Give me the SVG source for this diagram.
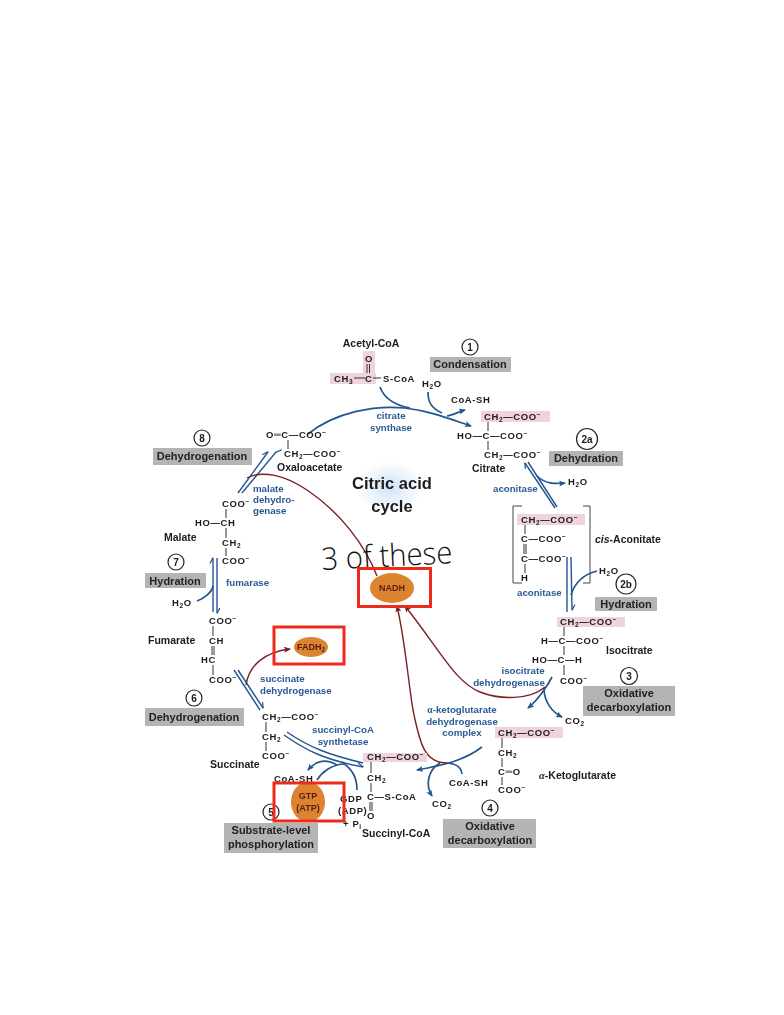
<svg xmlns="http://www.w3.org/2000/svg" width="784" height="1015" viewBox="0 0 784 1015">
<style>
text{font-family:"Liberation Sans",Arial,sans-serif;font-weight:700;fill:#1c1c1c;filter:url(#soft)}
.c{font-size:9.5px;letter-spacing:.6px}
.n{font-size:10.5px}
.b{font-size:9.7px;fill:#2a5a94}
.m{text-anchor:middle}
.l{font-size:11px;text-anchor:middle;fill:#222}
.s{font-size:6.5px}
.g{fill:#b4b4b4}
.p{fill:#f0d3df}
.o{fill:#fff;stroke:#222;stroke-width:1.2}
.d{font-size:10px;text-anchor:middle}
.e{fill:#dc8430}
.t{font-size:9px;text-anchor:middle;fill:#5a1c10}
.r{fill:none;stroke:#ee2a1b;stroke-width:3}
.bond{fill:none;stroke:#333;stroke-width:1}
.a{fill:none;stroke:#23568f;stroke-width:1.7}
.h{fill:none;stroke:#23568f;stroke-width:1.4}
.x{fill:none;stroke:#7a2024;stroke-width:1.4}
.br{fill:none;stroke:#444;stroke-width:1}
</style>
<defs>
<filter id="soft" x="-10%" y="-30%" width="120%" height="160%"><feGaussianBlur stdDeviation="0.3"/></filter>
<marker id="ab" markerWidth="8" markerHeight="8" refX="6" refY="3" orient="auto" markerUnits="userSpaceOnUse"><path d="M0 0L7 3L0 6L1.5 3z" fill="#23568f"/></marker>
<marker id="ar" markerWidth="8" markerHeight="8" refX="6" refY="3" orient="auto" markerUnits="userSpaceOnUse"><path d="M0 0L7 3L0 6L1.5 3z" fill="#7a2024"/></marker>
<marker id="hb" markerWidth="7" markerHeight="7" refX="5.5" refY="4" orient="auto" markerUnits="userSpaceOnUse"><path d="M0 1L6 4" fill="none" stroke="#23568f" stroke-width="1.2"/></marker>
<radialGradient id="glow"><stop offset="0" stop-color="#cfe3f6"/><stop offset="1" stop-color="#fff"/></radialGradient>
</defs>
<rect width="784" height="1015" fill="#fff"/>
<ellipse cx="390" cy="487" rx="34" ry="26" fill="url(#glow)"/>

<g id="connectors">
<path class="a" marker-end="url(#ab)" d="M308 434C335 412 375 405 405 408C430 411 450 419 471 426"/>
<path class="a" d="M380 387C384 398 394 405 410 408"/>
<path class="a" d="M428 392C428 402 431 408 442 413"/>
<path class="a" marker-end="url(#ab)" d="M447 416C453 415 458 412 465 410"/>
<path class="h" marker-end="url(#hb)" d="M238 493L268 452"/>
<path class="h" marker-start="url(#hb)" d="M276 452L242 493"/>
<path class="h" marker-end="url(#hb)" d="M213 612V558"/>
<path class="h" marker-end="url(#hb)" d="M217 558V613"/>
<path class="a" d="M197 601C205 598 212 592 213 586"/>
<path class="h" marker-end="url(#hb)" d="M238 670L263 708"/>
<path class="h" d="M234 670L260 710"/>
<path class="h" d="M287 732C310 748 330 755 363 763"/>
<path class="h" marker-end="url(#hb)" d="M284 735C305 750 325 760 363 767"/>
<path class="a" marker-end="url(#ab)" d="M337 765C325 758 315 762 308 770"/>
<path class="a" d="M317 780C322 772 332 764 345 764"/>
<path class="a" d="M357 790C357 778 353 770 342 762"/>
<path class="h" marker-end="url(#hb)" d="M555 508L525 463"/>
<path class="h" d="M528 462L557 507"/>
<path class="a" marker-end="url(#ab)" d="M537 476C545 484 555 484 565 483"/>
<path class="h" d="M567 557V612"/>
<path class="h" marker-end="url(#hb)" d="M571 557L572 610"/>
<path class="a" d="M597 571C585 574 575 582 571 595"/>
<path class="a" marker-end="url(#ab)" d="M552 677C548 685 538 700 528 708"/>
<path class="a" marker-end="url(#ab)" d="M544 688C544 702 552 712 562 717"/>
<path class="a" marker-end="url(#ab)" d="M482 747C465 760 445 765 417 770"/>
<path class="a" d="M462 774C461 766 455 763 445 763"/>
<path class="a" marker-end="url(#ab)" d="M440 763C428 770 425 785 432 796"/>
<path class="x" marker-end="url(#ar)" d="M246 685C249 665 265 652 290 649"/>
<path class="x" marker-end="url(#ar)" d="M545 687C530 700 500 700 480 692C455 682 440 650 405 606"/>
<path class="x" marker-end="url(#ar)" d="M447 763C425 763 420 745 413 710C408 680 405 640 397 606"/>
<path class="x" d="M247 478C262 470 285 475 307 490C340 512 365 545 377 576"/>
</g>

<g id="acetyl-coa">
<rect class="p" x="363" y="351" width="12" height="24"/><rect class="p" x="330" y="373" width="46" height="11"/>
<text class="n" x="371" y="347" text-anchor="middle">Acetyl-CoA</text>
<text class="c" x="365" y="362">O</text>
<path class="bond" d="M367 364V373M369.500 364V373M354 378H365M373 378H381"/>
<text class="c" x="334" y="382">CH<tspan class="s" dy="2">3</tspan></text>
<text class="c" x="365" y="382">C</text>
<text class="c" x="383" y="382">S-CoA</text>
</g>
<g id="step1"><circle class="o" cx="470" cy="347" r="8"/><text class="d" x="470" y="351">1</text><rect class="g" x="430" y="357" width="81" height="15"/><text class="l" x="470" y="368">Condensation</text></g>
<g id="inputs-1">
<text class="c" x="422" y="387">H<tspan class="s" dy="2">2</tspan><tspan dy="-2">O</tspan></text>
<text class="c" x="451" y="403">CoA-SH</text>
<text class="b m" x="391" y="419">citrate</text><text class="b m" x="391" y="431">synthase</text>
</g>
<g id="citrate">
<rect class="p" x="481" y="411" width="69" height="11"/>
<text class="c" x="484" y="420">CH<tspan class="s" dy="2">2</tspan><tspan dy="-2">—COO</tspan><tspan class="s" dy="-3">−</tspan></text>
<text class="c" x="457" y="439">HO—C—COO<tspan class="s" dy="-3">−</tspan></text>
<text class="c" x="484" y="458">CH<tspan class="s" dy="2">2</tspan><tspan dy="-2">—COO</tspan><tspan class="s" dy="-3">−</tspan></text>
<text class="n" x="472" y="472">Citrate</text>
<path class="bond" d="M488 422V431M488 441V450"/>
</g>
<g id="step2a"><circle class="o" cx="587" cy="439" r="10.500"/><text class="d" x="587" y="443">2a</text><rect class="g" x="549" y="451" width="74" height="15"/><text class="l" x="586" y="462">Dehydration</text></g>
<g id="cis-aconitate">
<text class="b" x="493" y="492">aconitase</text>
<text class="c" x="568" y="485">H<tspan class="s" dy="2">2</tspan><tspan dy="-2">O</tspan></text>
<path class="br" d="M522 506H513V583H522M583 506H590V583H583"/>
<rect class="p" x="517" y="514" width="68" height="11"/>
<text class="c" x="521" y="523">CH<tspan class="s" dy="2">2</tspan><tspan dy="-2">—COO</tspan><tspan class="s" dy="-3">−</tspan></text>
<text class="c" x="521" y="542">C—COO<tspan class="s" dy="-3">−</tspan></text>
<text class="c" x="521" y="562">C—COO<tspan class="s" dy="-3">−</tspan></text>
<text class="c" x="521" y="581">H</text>
<path class="bond" d="M525 525V534M524 544V554M526 544V554M525 564V573"/>
<text class="n" x="595" y="543"><tspan font-style="italic">cis</tspan>-Aconitate</text>
</g>
<g id="step2b">
<text class="c" x="599" y="574">H<tspan class="s" dy="2">2</tspan><tspan dy="-2">O</tspan></text>
<circle class="o" cx="626" cy="584" r="10"/><text class="d" x="626" y="588">2b</text>
<rect class="g" x="595" y="597" width="62" height="14"/><text class="l" x="626" y="608">Hydration</text>
<text class="b" x="517" y="596">aconitase</text>
</g>
<g id="isocitrate">
<rect class="p" x="557" y="617" width="68" height="10"/>
<text class="c" x="560" y="625">CH<tspan class="s" dy="2">2</tspan><tspan dy="-2">—COO</tspan><tspan class="s" dy="-3">−</tspan></text>
<text class="c" x="541" y="644">H—C—COO<tspan class="s" dy="-3">−</tspan></text>
<text class="c" x="532" y="663">HO—C—H</text>
<text class="c" x="560" y="684">COO<tspan class="s" dy="-3">−</tspan></text>
<path class="bond" d="M564 627V636M564 646V655M564 665V675"/>
<text class="n" x="606" y="654">Isocitrate</text>
</g>
<g id="step3"><circle class="o" cx="629" cy="676" r="8.500"/><text class="d" x="629" y="680">3</text><rect class="g" x="583" y="686" width="92" height="30"/><text class="l" x="629" y="697">Oxidative</text><text class="l" x="629" y="711">decarboxylation</text></g>
<g id="isocitrate-dh">
<text class="b m" x="523" y="674">isocitrate</text><text class="b m" x="509" y="686">dehydrogenase</text>
<text class="c" x="565" y="724">CO<tspan class="s" dy="2">2</tspan></text>
</g>
<g id="ketoglutarate">
<text class="b m" x="462" y="713"><tspan font-family="Liberation Serif">α</tspan>-ketoglutarate</text><text class="b m" x="462" y="725">dehydrogenase</text><text class="b m" x="462" y="736">complex</text>
<rect class="p" x="495" y="727" width="68" height="11"/>
<text class="c" x="498" y="736">CH<tspan class="s" dy="2">2</tspan><tspan dy="-2">—COO</tspan><tspan class="s" dy="-3">−</tspan></text>
<text class="c" x="498" y="756">CH<tspan class="s" dy="2">2</tspan></text>
<text class="c" x="498" y="775">C═O</text>
<text class="c" x="498" y="793">COO<tspan class="s" dy="-3">−</tspan></text>
<path class="bond" d="M502 738V748M502 758V767M502 777V785"/>
<text class="n" x="539" y="779"><tspan font-family="Liberation Serif" font-style="italic">α</tspan>-Ketoglutarate</text>
</g>
<g id="step4">
<text class="c" x="449" y="786">CoA-SH</text>
<text class="c" x="432" y="807">CO<tspan class="s" dy="2">2</tspan></text>
<circle class="o" cx="490" cy="808" r="8"/><text class="d" x="490" y="812">4</text><rect class="g" x="443" y="819" width="93" height="29"/><text class="l" x="490" y="830">Oxidative</text><text class="l" x="490" y="844">decarboxylation</text>
</g>
<g id="succinyl-coa">
<path class="p" d="M363 753H427V762H363z"/>
<text class="c" x="367" y="760">CH<tspan class="s" dy="2">2</tspan><tspan dy="-2">—COO</tspan><tspan class="s" dy="-3">−</tspan></text>
<text class="c" x="367" y="781">CH<tspan class="s" dy="2">2</tspan></text>
<text class="c" x="367" y="800">C—S-CoA</text>
<text class="c" x="367" y="819">O</text>
<path class="bond" d="M371 762V773M371 783V792M370 802V811M372 802V811"/>
<text class="n" x="362" y="837">Succinyl-CoA</text>
<text class="c" x="340" y="802">GDP</text>
<text class="c" x="338" y="814">(ADP)</text>
<text class="c" x="343" y="827">+ P<tspan class="s" dy="2">i</tspan></text>
</g>
<g id="step5">
<text class="c" x="274" y="782">CoA-SH</text>
<circle class="o" cx="271" cy="812" r="8"/><text class="d" x="271" y="816">5</text>
<rect class="g" x="224" y="823" width="94" height="30"/><text class="l" x="271" y="834">Substrate-level</text><text class="l" x="271" y="848">phosphorylation</text>
</g>
<g id="succinate">
<text class="c" x="262" y="720">CH<tspan class="s" dy="2">2</tspan><tspan dy="-2">—COO</tspan><tspan class="s" dy="-3">−</tspan></text>
<text class="c" x="262" y="740">CH<tspan class="s" dy="2">2</tspan></text>
<text class="c" x="262" y="759">COO<tspan class="s" dy="-3">−</tspan></text>
<path class="bond" d="M266 722V732M266 742V751"/>
<text class="n" x="210" y="768">Succinate</text>
<text class="b m" x="343" y="733">succinyl-CoA</text><text class="b m" x="343" y="745">synthetase</text>
<text class="b" x="260" y="682">succinate</text><text class="b" x="260" y="694">dehydrogenase</text>
</g>
<g id="step6"><circle class="o" cx="194" cy="698" r="8"/><text class="d" x="194" y="702">6</text><rect class="g" x="145" y="708" width="99" height="18"/><text class="l" x="194" y="721">Dehydrogenation</text></g>
<g id="fumarate">
<text class="c" x="172" y="606">H<tspan class="s" dy="2">2</tspan><tspan dy="-2">O</tspan></text>
<text class="c" x="209" y="624">COO<tspan class="s" dy="-3">−</tspan></text>
<text class="c" x="209" y="644">CH</text>
<text class="c" x="201" y="663">HC</text>
<text class="c" x="209" y="683">COO<tspan class="s" dy="-3">−</tspan></text>
<path class="bond" d="M213 626V636M212 646V655M214 646V655M213 665V675"/>
<text class="n" x="148" y="644">Fumarate</text>
</g>
<g id="step7"><circle class="o" cx="176" cy="562" r="8"/><text class="d" x="176" y="566">7</text><rect class="g" x="145" y="573" width="61" height="15"/><text class="l" x="175" y="585">Hydration</text><text class="b" x="226" y="586">fumarase</text></g>
<g id="malate">
<text class="c" x="222" y="507">COO<tspan class="s" dy="-3">−</tspan></text>
<text class="c" x="195" y="526">HO—CH</text>
<text class="c" x="222" y="546">CH<tspan class="s" dy="2">2</tspan></text>
<text class="c" x="222" y="564">COO<tspan class="s" dy="-3">−</tspan></text>
<path class="bond" d="M226 509V518M226 528V538M226 548V556"/>
<text class="n" x="164" y="541">Malate</text>
<text class="b" x="253" y="492">malate</text><text class="b" x="253" y="503">dehydro-</text><text class="b" x="253" y="514">genase</text>
</g>
<g id="step8"><circle class="o" cx="202" cy="438" r="8"/><text class="d" x="202" y="442">8</text><rect class="g" x="153" y="448" width="99" height="17"/><text class="l" x="202" y="460">Dehydrogenation</text></g>
<g id="oxaloacetate">
<text class="c" x="266" y="438">O═C—COO<tspan class="s" dy="-3">−</tspan></text>
<text class="c" x="284" y="457">CH<tspan class="s" dy="2">2</tspan><tspan dy="-2">—COO</tspan><tspan class="s" dy="-3">−</tspan></text>
<path class="bond" d="M288 440V449"/>
<text class="n" x="277" y="471">Oxaloacetate</text>
</g>
<g id="title"><text x="392" y="489" font-size="16.500" text-anchor="middle" fill="#111">Citric acid</text><text x="392" y="512" font-size="16.500" text-anchor="middle" fill="#111">cycle</text></g>
<text id="note" x="322" y="570" transform="rotate(-3 322 570)" textLength="131" lengthAdjust="spacingAndGlyphs" style="font-family:'Open Sans',sans-serif;font-weight:300;font-size:31px;fill:#111;filter:none">3 of these</text>
<g id="nadh"><ellipse class="e" cx="392" cy="588" rx="22" ry="15"/><text class="t" x="392" y="591">NADH</text><rect class="r" x="358.500" y="568.500" width="72" height="38"/></g>
<g id="fadh2"><ellipse class="e" cx="311" cy="647" rx="17" ry="10"/><text class="t" x="311" y="650">FADH<tspan class="s" dy="2">2</tspan></text><rect class="r" x="274" y="627" width="70" height="37"/></g>
<g id="gtp"><ellipse class="e" cx="308" cy="802" rx="17" ry="20"/><text class="t" x="308" y="799">GTP</text><text class="t" x="308" y="811">(ATP)</text><rect class="r" x="274" y="783" width="70" height="38"/></g>
</svg>
